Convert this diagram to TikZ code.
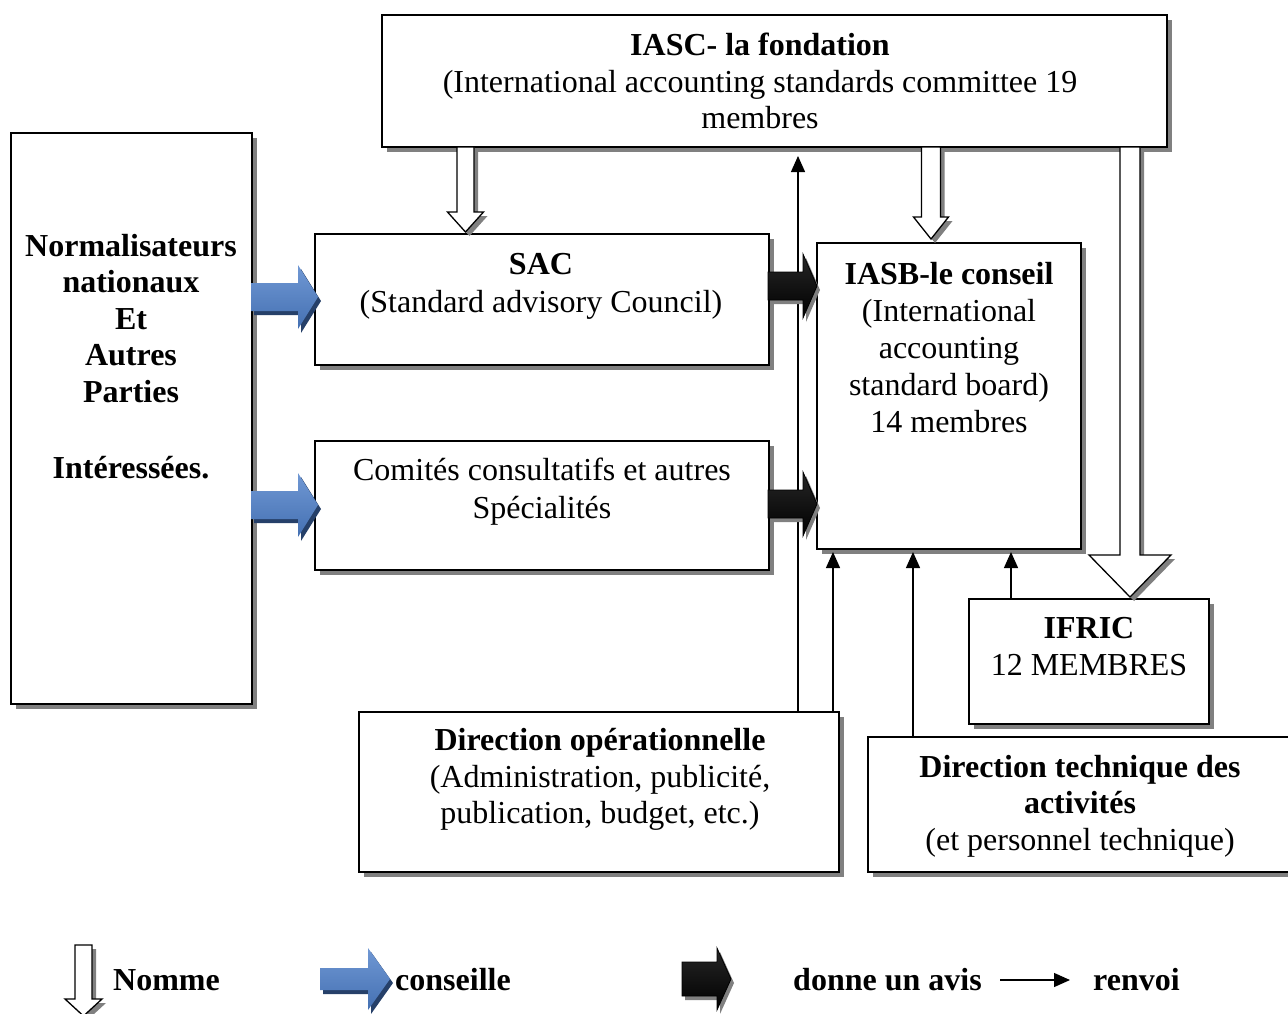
\documentclass[tikz,border=0pt]{standalone}
\usepackage{fontspec}
\setmainfont{Liberation Serif}
\usetikzlibrary{arrows.meta,shadows,calc}
\definecolor{shd}{gray}{0.5}
\definecolor{blueL}{RGB}{112,152,212}
\definecolor{blueD}{RGB}{68,112,178}
\definecolor{blueS}{RGB}{38,64,105}
\tikzset{
  box/.style={draw, fill=white, line width=1.5pt, inner sep=0pt, outer sep=0pt, anchor=north west,
    drop shadow={shadow xshift=5pt, shadow yshift=-5pt, fill=shd, opacity=1}},
  hollow/.style={draw=black, fill=white, line width=1.3pt, line join=miter},
  renv/.style={line width=1.3pt, -{Triangle[width=14pt,length=16pt]}},
  tx/.style={anchor=base, inner sep=0pt, font=\fontsize{32}{37}\selectfont},
  tb/.style={anchor=base, inner sep=0pt, font=\fontsize{32}{37}\selectfont\bfseries},
  lgt/.style={anchor=base west, inner sep=0pt, font=\fontsize{32}{37}\selectfont\bfseries},
  bluefill/.style={top color=blueL, bottom color=blueD},
  blueshadow/.style={fill=blueS},
  blackfill/.style={draw=black, line width=0.8pt, top color=black!85, middle color=black!45, bottom color=black},
  blackshadow/.style={fill=shd},
}
% hollow down arrow: cx, ytop, yhead, ytip, shaft half, head half
\newcommand\hollowdown[6]{%
  \fill[shd,shift={(4,4)}] (#1-#5,#2) -- (#1+#5,#2) -- (#1+#5,#3) -- (#1+#6,#3) -- (#1,#4) -- (#1-#6,#3) -- (#1-#5,#3) -- cycle;
  \draw[hollow] (#1-#5,#2) -- (#1+#5,#2) -- (#1+#5,#3) -- (#1+#6,#3) -- (#1,#4) -- (#1-#6,#3) -- (#1-#5,#3) -- cycle;}
% block right arrow: x0, xhead, xtip, cy, shaft half, head half, fill style, shadow style
\newcommand\blockright[8]{%
  \fill[#8,shift={(3,4)}] (#1,#4-#5) -- (#2,#4-#5) -- (#2,#4-#6) -- (#3,#4) -- (#2,#4+#6) -- (#2,#4+#5) -- (#1,#4+#5) -- cycle;
  \path[#7] (#1,#4-#5) -- (#2,#4-#5) -- (#2,#4-#6) -- (#3,#4) -- (#2,#4+#6) -- (#2,#4+#5) -- (#1,#4+#5) -- cycle;}
\begin{document}
\begin{tikzpicture}[x=1pt,y=-1pt]
\useasboundingbox (0,0) rectangle (1288,1013);

% boxes
\node[box, minimum width=785pt, minimum height=132pt] (iasc) at (382,15) {};
\node[box, minimum width=241pt, minimum height=571pt] (norm) at (11,133) {};
\node[box, minimum width=454pt, minimum height=131pt] (sac) at (315,234) {};
\node[box, minimum width=454pt, minimum height=129pt] (comites) at (315,441) {};
\node[box, minimum width=264pt, minimum height=306pt] (iasb) at (817,243) {};
\node[box, minimum width=240pt, minimum height=125pt] (ifric) at (969,599) {};
\node[box, minimum width=480pt, minimum height=160pt] (dirop) at (359,712) {};
\node[box, minimum width=424pt, minimum height=135pt] (dirtech) at (868,737) {};

% renvoi connectors
\coordinate (xa) at (798,0);
\coordinate (xb) at (833,0);
\coordinate (xc) at (913,0);
\coordinate (xd) at (1011,0);
\draw[renv, shorten >=9pt] (dirop.north -| xa) -- (iasc.south -| xa);
\draw[renv, shorten >=3pt] (dirop.north -| xb) -- (iasb.south -| xb);
\draw[renv, shorten >=3pt] (dirtech.north -| xc) -- (iasb.south -| xc);
\draw[renv, shorten >=3pt] (ifric.north -| xd) -- (iasb.south -| xd);

% nomme arrows
\hollowdown{465.5}{147}{212}{232}{8.5}{18}
\hollowdown{931}{147}{217}{239}{9.5}{17.5}
\hollowdown{1130}{147}{555}{597}{10}{41}

% conseille arrows
\blockright{251}{298}{318}{297}{14}{32}{bluefill}{blueshadow}
\blockright{251}{298}{318}{505}{14}{32}{bluefill}{blueshadow}

% donne un avis arrows
\blockright{768}{803}{817}{286}{14}{32}{blackfill}{blackshadow}
\blockright{768}{803}{817}{504}{14}{32}{blackfill}{blackshadow}

% texts
\node[tb] (iasc1) at (760,55) {IASC- la fondation};
\node[tx] (iasc2) at (760,92) {(International accounting standards committee 19};
\node[tx] (iasc3) at (760,128) {membres};

\node[tb] (norm1) at (131,256) {Normalisateurs};
\node[tb] (norm2) at (131,292) {nationaux};
\node[tb] (norm3) at (131,329) {Et};
\node[tb] (norm4) at (131,365) {Autres};
\node[tb] (norm5) at (131,402) {Parties};
\node[tb] (norm6) at (131,478) {Intéressées.};

\node[tb] (sac1) at (541,274) {SAC};
\node[tx] (sac2) at (541,312) {(Standard advisory Council)};

\node[tx] (com1) at (542,480) {Comités consultatifs et autres};
\node[tx] (com2) at (542,518) {Spécialités};

\node[tb] (iasb1) at (949,284) {IASB-le conseil};
\node[tx] (iasb2) at (949,321) {(International};
\node[tx] (iasb3) at (949,358) {accounting};
\node[tx] (iasb4) at (949,395) {standard board)};
\node[tx] (iasb5) at (949,432) {14 membres};

\node[tb] (ifric1) at (1089,638) {IFRIC};
\node[tx] (ifric2) at (1089,675) {12 MEMBRES};

\node[tb] (dirop1) at (600,750) {Direction opérationnelle};
\node[tx] (dirop2) at (600,787) {(Administration, publicité,};
\node[tx] (dirop3) at (600,823) {publication, budget, etc.)};

\node[tb] (dt1) at (1080,777) {Direction technique des};
\node[tb] (dt2) at (1080,813) {activités};
\node[tx] (dt3) at (1080,850) {(et personnel technique)};

% legend
\hollowdown{83.5}{945}{999}{1016}{8.5}{18.5}
\node[lgt] (lg1) at (113,990) {Nomme};
\blockright{320}{368}{390}{979}{11}{31}{bluefill}{blueshadow}
\node[lgt] (lg2) at (395,990) {conseille};
\blockright{682}{717}{731}{979}{17}{31}{blackfill}{blackshadow}
\node[lgt] (lg3) at (793,990) {donne un avis};
\coordinate (lgA) at (1000,980);
\coordinate (lgB) at (1070,980);
\draw[renv] (lgA) -- (lgB);
\node[lgt] (lg4) at (1093,990) {renvoi};
\end{tikzpicture}
\end{document}
